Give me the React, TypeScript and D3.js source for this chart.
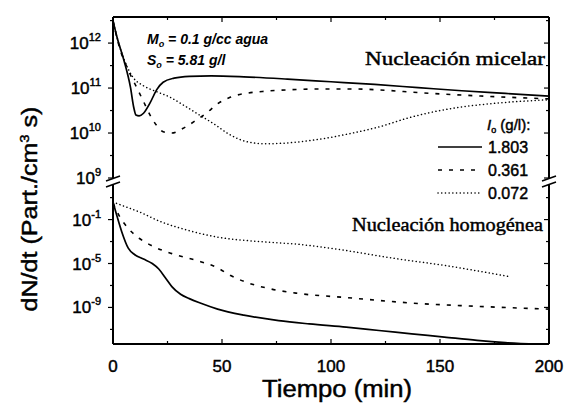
import React from 'react';
import * as d3 from 'd3';

// tiempo (min) y log10(dN/dt) leidos de la figura
// nucleacion micelar (panel superior)
const tMic1803 = [0, 2, 5, 8, 9.6, 10.5, 12, 14, 17, 20, 23, 28, 35, 45, 60, 80, 100, 120, 140, 160, 180, 200];
const vMic1803 = [12.5, 12.1, 11.62, 11.02, 10.55, 10.4, 10.38, 10.44, 10.67, 10.96, 11.13, 11.22, 11.26, 11.27, 11.25, 11.2, 11.14, 11.08, 11.01, 10.94, 10.88, 10.82];
const tMic0361 = [0, 3, 7, 11, 14, 17, 20, 23, 27, 32, 38, 43, 48, 54, 62, 70, 80, 95, 110, 125, 140, 170, 200];
const vMic0361 = [12.5, 11.9, 11.4, 11.0, 10.7, 10.4, 10.17, 10.03, 10.0, 10.1, 10.28, 10.45, 10.65, 10.8, 10.89, 10.93, 10.96, 10.98, 10.98, 10.95, 10.9, 10.82, 10.76];
const tMic0072 = [0, 2, 5, 9, 14, 20, 26, 32, 39, 47, 53, 62, 70, 80, 93, 108, 123, 135, 145, 160, 175, 200];
const vMic0072 = [12.5, 12.1, 11.65, 11.25, 11.05, 10.92, 10.8, 10.63, 10.42, 10.18, 9.98, 9.8, 9.76, 9.78, 9.85, 9.98, 10.15, 10.33, 10.45, 10.58, 10.66, 10.74];

// nucleacion homogenea (panel inferior)
const tHom1803 = [0, 2, 4, 7, 10, 14, 18, 21, 24, 27, 31, 35, 40, 48, 60, 76, 90, 107, 122, 137, 152, 167, 180, 195];
const vHom1803 = [0.6, -0.8, -2.1, -3.6, -4.2, -4.6, -5.0, -5.5, -6.3, -7.1, -7.8, -8.2, -8.6, -9.15, -9.7, -10.2, -10.5, -10.8, -11.1, -11.4, -11.7, -12.0, -12.2, -12.35];
const tHom0361 = [0, 3, 7, 12, 18, 27, 38, 48, 54, 61, 72, 84, 107, 137, 167, 200];
const vHom0361 = [0.5, -0.7, -1.8, -2.7, -3.4, -4.1, -4.7, -5.4, -6.1, -6.7, -7.3, -7.7, -8.1, -8.6, -8.9, -9.15];
const tHom0072 = [0, 6, 12, 22, 33, 48, 67, 85, 103, 128, 153, 168, 182];
const vHom0072 = [0.6, 0.15, -0.3, -1.2, -1.9, -2.6, -3.0, -3.25, -3.7, -4.5, -5.2, -5.7, -6.2];

const legendLabels = ['1.803', '0.361', '0.072'];
const xTicks = [0, 50, 100, 150, 200];
const xMinor = [25, 75, 125, 175];
const upTicks = [12, 11, 10, 9];
const upMinor = [12.5, 11.5, 10.5, 9.5];
const lowTicks = [-1, -5, -9];
const lowMinor = [1, -3, -7, -11];

const W = 571;
const H = 412;
const LEFT = 113;
const RIGHT = 549;
const TOP = 17;
const BOTTOM = 344;
const BRK_UP = 178;
const BRK_LOW = 184;

const DASHES = ['', '4 7', '0.1 3.6'];
const SANS = '"Liberation Sans", Arial, sans-serif';
const SERIF = '"Liberation Serif", "Times New Roman", serif';

export default function App() {
  const x = d3.scaleLinear().domain([0, 200]).range([LEFT, RIGHT]);
  const yUp = d3.scaleLog().domain([1e9, 10 ** 12.58]).range([BRK_UP, TOP]);
  const yLow = d3.scaleLog().domain([10 ** -12.33, 10 ** 2.24]).range([BOTTOM, BRK_LOW]);

  const mk = (ys: d3.ScaleLogarithmic<number, number>) =>
    d3.line<[number, number]>()
      .x((d) => x(d[0]))
      .y((d) => ys(10 ** d[1]))
      .curve(d3.curveMonotoneX);
  const lineUp = mk(yUp);
  const lineLow = mk(yLow);

  const zip = (t: number[], v: number[]) => t.map((ti, i) => [ti, v[i]] as [number, number]);
  const upper = [zip(tMic1803, vMic1803), zip(tMic0361, vMic0361), zip(tMic0072, vMic0072)];
  const lower = [zip(tHom1803, vHom1803), zip(tHom0361, vHom0361), zip(tHom0072, vHom0072)];

  const curveStyle = (i: number) => ({
    fill: 'none',
    stroke: '#000',
    strokeWidth: i === 0 ? 1.7 : i === 1 ? 1.6 : 1.5,
    strokeDasharray: DASHES[i] || undefined,
    strokeLinecap: (i === 2 ? 'round' : 'butt') as 'round' | 'butt',
  });

  // trazo fino para imitar la tinta del escaneo
  const ink = { stroke: '#000', strokeWidth: 0.45 };

  return (
    <svg width={W} height={H} style={{ position: 'absolute', left: 0, top: 0, background: '#fff' }}>
      {/* curvas */}
      {upper.map((d, i) => <path key={'u' + i} d={lineUp(d) || ''} {...curveStyle(i)} />)}
      {lower.map((d, i) => <path key={'l' + i} d={lineLow(d) || ''} {...curveStyle(i)} />)}

      {/* marco */}
      <g stroke="#000" strokeWidth={2} fill="none">
        <line x1={LEFT} x2={RIGHT} y1={TOP} y2={TOP} />
        <line x1={LEFT} x2={RIGHT} y1={BOTTOM} y2={BOTTOM} />
        <line x1={LEFT} x2={LEFT} y1={TOP} y2={BRK_UP} />
        <line x1={LEFT} x2={LEFT} y1={BRK_LOW} y2={BOTTOM} />
        <line x1={RIGHT} x2={RIGHT} y1={TOP} y2={BRK_UP} />
        <line x1={RIGHT} x2={RIGHT} y1={BRK_LOW} y2={BOTTOM} />
        {[LEFT, RIGHT].map((bx) => (
          <g key={bx} strokeWidth={1.6}>
            <line x1={bx - 7} x2={bx + 7} y1={BRK_UP + 3} y2={BRK_UP - 2} />
            <line x1={bx - 7} x2={bx + 7} y1={BRK_LOW + 3} y2={BRK_LOW - 2} />
          </g>
        ))}
      </g>

      {/* marcas de los ejes */}
      <g stroke="#000" strokeWidth={1.2}>
        {xTicks.map((t) => (
          <g key={t}>
            <line x1={x(t)} x2={x(t)} y1={BOTTOM} y2={BOTTOM - 5} />
            <line x1={x(t)} x2={x(t)} y1={TOP} y2={TOP + 5} />
          </g>
        ))}
        {xMinor.map((t) => (
          <g key={t}>
            <line x1={x(t)} x2={x(t)} y1={BOTTOM} y2={BOTTOM - 3} />
            <line x1={x(t)} x2={x(t)} y1={TOP} y2={TOP + 3} />
          </g>
        ))}
        {upTicks.map((e) => (
          <g key={e}>
            <line x1={LEFT - 5} x2={LEFT} y1={yUp(10 ** e)} y2={yUp(10 ** e)} />
            <line x1={RIGHT - 5} x2={RIGHT} y1={yUp(10 ** e)} y2={yUp(10 ** e)} />
          </g>
        ))}
        {upMinor.map((e) => (
          <g key={e}>
            <line x1={LEFT - 3} x2={LEFT} y1={yUp(10 ** e)} y2={yUp(10 ** e)} />
            <line x1={RIGHT - 3} x2={RIGHT} y1={yUp(10 ** e)} y2={yUp(10 ** e)} />
          </g>
        ))}
        {lowTicks.map((e) => (
          <g key={e}>
            <line x1={LEFT - 5} x2={LEFT} y1={yLow(10 ** e)} y2={yLow(10 ** e)} />
            <line x1={RIGHT - 5} x2={RIGHT} y1={yLow(10 ** e)} y2={yLow(10 ** e)} />
          </g>
        ))}
        {lowMinor.map((e) => (
          <g key={e}>
            <line x1={LEFT - 3} x2={LEFT} y1={yLow(10 ** e)} y2={yLow(10 ** e)} />
            <line x1={RIGHT - 3} x2={RIGHT} y1={yLow(10 ** e)} y2={yLow(10 ** e)} />
          </g>
        ))}
      </g>

      {/* etiquetas */}
      <g fontFamily={SANS} fill="#000">
        {xTicks.map((t) => (
          <text key={t} x={x(t)} y={372} fontSize={17} textAnchor="middle" {...ink}>{t}</text>
        ))}
        {upTicks.map((e) => (
          <text key={e} x={101} y={yUp(10 ** e) + 6} fontSize={17} textAnchor="end" {...ink}>
            10<tspan fontSize={11} dy={-8}>{e}</tspan>
          </text>
        ))}
        {lowTicks.map((e) => (
          <text key={e} x={101} y={yLow(10 ** e) + 6} fontSize={17} textAnchor="end" {...ink}>
            10<tspan fontSize={11} dy={-8}>{e}</tspan>
          </text>
        ))}
        <text x={337} y={397} fontSize={23} textAnchor="middle" textLength={150} lengthAdjust="spacingAndGlyphs" {...ink}>
          Tiempo (min)
        </text>
        <text transform="translate(37,209) rotate(-90)" fontSize={22} textAnchor="middle" textLength={205} lengthAdjust="spacingAndGlyphs" {...ink}>
          dN/dt (Part./cm<tspan fontSize={13} dy={-8}>3</tspan><tspan dy={8}> s)</tspan>
        </text>

        <text x={147} y={44} fontSize={14} fontStyle="italic" fontWeight="bold">
          M<tspan fontSize={9} dy={3}>o</tspan><tspan dy={-3}> = 0.1 g/cc agua</tspan>
        </text>
        <text x={147} y={65} fontSize={14} fontStyle="italic" fontWeight="bold">
          S<tspan fontSize={9} dy={3}>o</tspan><tspan dy={-3}>  = 5.81 g/l</tspan>
        </text>

        {/* leyenda */}
        <text x={487} y={130} fontSize={15} {...ink}>
          <tspan fontStyle="italic">I</tspan><tspan fontSize={9} dy={3}>o</tspan><tspan dy={-3}> (g/l):</tspan>
        </text>
        {legendLabels.map((lab, i) => (
          <g key={lab}>
            <line x1={438} x2={482} y1={147 + i * 23} y2={147 + i * 23} {...curveStyle(i)} />
            <text x={488} y={153 + i * 23} fontSize={16} {...ink}>{lab}</text>
          </g>
        ))}
      </g>

      <g fontFamily={SERIF} fill="#000">
        <text x={545} y={65} fontSize={19} textAnchor="end" textLength={180} lengthAdjust="spacingAndGlyphs" {...ink}>
          Nucleación micelar
        </text>
        <text x={543} y={231} fontSize={19} textAnchor="end" textLength={191} lengthAdjust="spacingAndGlyphs" {...ink}>
          Nucleación homogénea
        </text>
      </g>
    </svg>
  );
}
